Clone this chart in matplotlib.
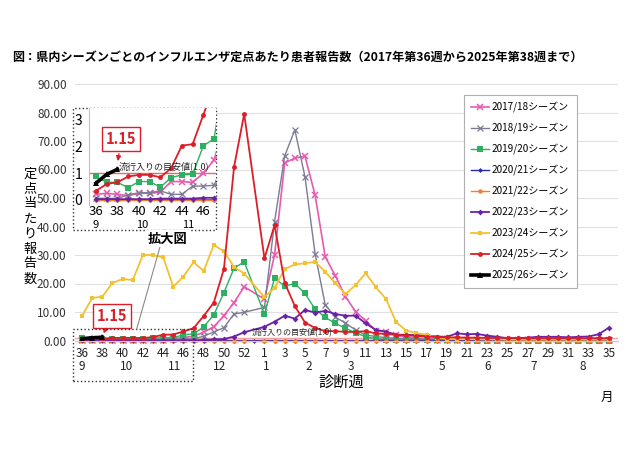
import matplotlib
matplotlib.use('Agg')
import matplotlib.pyplot as plt
from matplotlib.patches import Rectangle
from matplotlib.lines import Line2D
from matplotlib.transforms import blended_transform_factory

plt.rcParams['font.family'] = ['Noto Sans CJK JP', 'DejaVu Sans']

# ---------------- data ----------------
weeks = list(range(36, 54)) + list(range(1, 36))
season_labels = ['2017/18シーズン', '2018/19シーズン', '2019/20シーズン', '2020/21シーズン',
                 '2021/22シーズン', '2022/23シーズン', '2023/24シーズン', '2024/25シーズン',
                 '2025/26シーズン']

s1718 = [0.21, 0.25, 0.21, 0.16, 0.25, 0.25, 0.29, 0.69, 0.69, 0.66,
         1.0, 1.5, 2.9, 4.8, 8.7, 13.3, 18.9, None,
         14.5, 30.0, 62.3, 64.0, 64.7, 51.0, 29.4, 22.7, 15.4, 10.1,
         6.9, 3.4, 3.1, 1.8, 1.2, 0.8, 0.6, 0.5, 0.4, 0.3,
         0.3, 0.2, 0.2, 0.2, 0.1, 0.1, 0.1, 0.1, 0.1, 0.1,
         0.1, 0.1, 0.1, 0.1, 0.1]
s1819 = [0.06, 0.06, 0.06, 0.19, 0.27, 0.27, 0.34, 0.21, 0.21, 0.52,
         0.52, 0.55, 1.5, 3.0, 4.5, 9.3, 9.9, None,
         11.6, 41.7, 64.8, 73.9, 57.5, 30.4, 12.5, 8.2, 6.1, 3.7,
         1.9, 1.4, 1.0, 0.8, 0.6, 0.5, 0.4, 0.3, 0.3, 0.2,
         0.2, 0.2, 0.1, 0.1, 0.1, 0.1, 0.1, 0.1, 0.1, 0.1,
         0.1, 0.1, 0.1, 0.1, 0.1]
s1920 = [0.88, 0.66, 0.66, 0.46, 0.69, 0.69, 0.48, 0.84, 0.94, 0.96,
         2.03, 2.3, 4.8, 9.0, 16.8, 25.4, 27.6, None,
         9.3, 21.9, 19.1, 20.0, 16.5, 11.0, 8.1, 6.0, 4.3, 2.7,
         1.3, 0.6, 0.3, 0.2, 0.1, 0.1, 0.05, 0.05, 0.02, 0.02,
         0.0, 0.0, 0.0, 0.0, 0.0, 0.0, 0.0, 0.0, 0.0, 0.0,
         0.0, 0.0, 0.0, 0.0, 0.0]
s2021 = [0.01, 0.01, 0.01, 0.0, 0.0, 0.0, 0.0, 0.0, 0.0, 0.0,
         0.0, 0.0, 0.0, 0.0, 0.0, 0.0, 0.0, 0.0,
         0.0, 0.0, 0.0, 0.0, 0.0, 0.0, 0.0, 0.0, 0.0, 0.0,
         0.0, 0.0, 0.0, 0.0, 0.0, 0.0, 0.0, 0.0, 0.0, 0.0,
         0.0, 0.0, 0.0, 0.0, 0.0, 0.0, 0.0, 0.0, 0.0, 0.0,
         0.0, 0.0, 0.0, 0.0, 0.0]
s2122 = [0.0, 0.0, 0.0, 0.0, 0.0, 0.0, 0.0, 0.0, 0.0, 0.0,
         0.0, 0.0, 0.0, 0.0, 0.0, 0.0, 0.0, None,
         0.0, 0.0, 0.0, 0.0, 0.0, 0.0, 0.0, 0.0, 0.0, 0.0,
         0.0, 0.0, 0.0, 0.0, 0.0, 0.0, 0.0, 0.0, 0.0, 0.0,
         0.0, 0.0, 0.0, 0.0, 0.0, 0.0, 0.0, 0.0, 0.0, 0.0,
         0.0, 0.0, 0.0, 0.0, 0.0]
s2223 = [0.03, 0.03, 0.03, 0.03, 0.03, 0.03, 0.05, 0.05, 0.05, 0.05,
         0.08, 0.08, 0.2, 0.4, 0.5, 1.4, 2.9, None,
         4.8, 6.6, 8.7, 7.7, 10.7, 9.8, 10.4, 9.3, 8.7, 8.7,
         6.0, 3.7, 3.1, 2.0, 2.0, 1.9, 1.8, 1.4, 1.3, 2.5,
         2.2, 2.3, 1.7, 1.3, 0.8, 0.8, 1.0, 1.3, 1.3, 1.3,
         1.1, 1.3, 1.4, 2.2, 4.5]
s2324 = [8.7, 14.9, 15.4, 20.2, 21.6, 21.2, 30.0, 30.0, 29.2, 18.9,
         22.4, 27.5, 24.4, 33.5, 31.3, 25.8, 23.5, None,
         15.2, 18.5, 25.1, 26.7, 27.1, 27.6, 24.1, 20.1, 16.3, 19.5,
         23.6, 18.7, 14.6, 6.4, 3.5, 2.6, 2.0, 1.0, 0.6, 0.5,
         0.5, 0.4, 0.4, 0.4, 0.3, 0.3, 0.3, 0.3, 0.3, 0.3,
         0.3, 0.3, 0.3, 0.3, 0.3]
s2425 = [0.34, 0.6, 0.66, 0.88, 0.94, 0.94, 0.85, 1.19, 2.04, 2.09,
         3.19, 4.3, 8.6, 13.3, 25.1, 60.9, 79.5, None,
         28.8, 40.5, 20.2, 12.1, 6.3, 4.4, 3.3, 3.3, 3.0, 3.0,
         3.3, 2.5, 2.3, 2.0, 1.8, 1.6, 1.4, 1.2, 1.1, 1.1,
         1.0, 1.0, 0.9, 0.9, 0.9, 0.8, 0.8, 0.8, 0.8, 0.8,
         0.8, 0.8, 0.8, 0.8, 0.8]
s2526 = [0.63, 0.96, 1.15]

threshold = 1.0
latest_value = 1.15
month_labels = ['9', '10', '11', '12', '1', '2', '3', '4', '5', '6', '7', '8']
month_pos = [0, 4.4, 9.1, 13.6, 18.2, 22.4, 26.5, 31, 35.5, 40, 44.6, 49.4]
inset_month_labels = ['9', '10', '11']
inset_month_pos = [36, 40.3, 44.6]

series = [s1718, s1819, s1920, s2021, s2122, s2223, s2324, s2425, s2526]
styles = [
    dict(color='#e65bb0', marker='x', ms=5, mew=1.1, lw=1.2),
    dict(color='#7b7b95', marker='x', ms=4, mew=0.9, lw=1.0),
    dict(color='#2eb062', marker='s', ms=4, mew=0, lw=1.0),
    dict(color='#2a2ab0', marker='D', ms=2.5, mew=0, lw=1.0),
    dict(color='#f08030', marker='o', ms=3.2, mew=0, lw=1.0),
    dict(color='#6a22a8', marker='D', ms=3, mew=0, lw=1.3),
    dict(color='#f2c230', marker='s', ms=3.5, mew=0, lw=1.3),
    dict(color='#dc1e28', marker='o', ms=3.5, mew=0, lw=1.3),
    dict(color='#000000', marker='^', ms=5, mew=0, lw=2.6),
]

W, H = 640, 450
def fx(px):
    return px / W
def fy(py):
    return 1 - py / H

fig = plt.figure(figsize=(6.4, 4.5), dpi=100)
fig.patch.set_facecolor('white')

# ---------------- main axes ----------------
ax = fig.add_axes([fx(75), fy(340.5), fx(618) - fx(75), fy(84) - fy(340.5)])
ax.set_xlim(-0.7, 52.9)
ax.set_ylim(0, 90)
ax.set_yticks(range(0, 91, 10))
ax.set_yticklabels([f'{v:.2f}' for v in range(0, 91, 10)], fontsize=8.5, color='#333333')
ax.set_xticks(range(0, 53, 2))
ax.set_xticklabels([str(weeks[i]) for i in range(0, 53, 2)], fontsize=8.5, color='#222222')
ax.tick_params(axis='both', length=0)
ax.tick_params(axis='y', pad=6)
ax.tick_params(axis='x', pad=5)
ax.grid(axis='y', color='#e0e0e0', lw=0.8)
ax.set_axisbelow(True)
for s in ['top', 'right', 'left']:
    ax.spines[s].set_visible(False)
ax.spines['bottom'].set_color('#c8c8c8')

ax.axhline(threshold, color='#f0a0a0', lw=1.0, zorder=1.5)

handles = []
for vals, st, lab in zip(series, styles, season_labels):
    xs = [i for i, v in enumerate(vals) if v is not None]
    ys = [v for v in vals if v is not None]
    ln, = ax.plot(xs, ys, color=st['color'], marker=st['marker'], ms=st['ms'],
                  mew=st['mew'], mec=st['color'], lw=st['lw'], clip_on=False, label=lab)
    handles.append(ln)

ax.text(16.75, 2.7, '流行入りの目安値(1.0)', fontsize=5.8, ha='left', va='center',
        color='#222222', zorder=6)

ax.annotate(f'{latest_value:.2f}', xy=(2, 1.6), xytext=(2.93, 8.6),
            fontsize=10.5, fontweight='bold', color='#dc1e28', ha='center', va='center',
            bbox=dict(boxstyle='square,pad=0.25', fc='white', ec='#dc1e28', lw=1),
            arrowprops=dict(arrowstyle='-|>', color='#dc1e28', lw=1, mutation_scale=7),
            zorder=7)

tr = blended_transform_factory(ax.transData, fig.transFigure)
for lab, p in zip(month_labels, month_pos):
    ax.text(p, fy(366.5), lab, transform=tr, fontsize=8.5, ha='center', va='center', color='#222222')
fig.text(fx(607), fy(397), '月', fontsize=9, ha='center', va='center')
fig.text(fx(341), fy(382), '診断週', fontsize=11, ha='center', va='center')
fig.text(fx(30), fy(226.5), '\n'.join('定点当たり報告数'), fontsize=9.5, ha='center',
         va='center', linespacing=1.2)
fig.text(fx(12), fy(57), '図：県内シーズンごとのインフルエンザ定点あたり患者報告数（2017年第36週から2025年第38週まで）',
         fontsize=8.7, fontweight='bold', ha='left', va='center')

leg = ax.legend(handles=handles, loc='upper left', bbox_to_anchor=(fx(464), fy(95)),
                bbox_transform=fig.transFigure, fontsize=7.2, frameon=True, fancybox=False,
                edgecolor='#b0b0b0', framealpha=1, labelspacing=1.0, handlelength=1.8,
                handletextpad=0.3, borderpad=0.7, borderaxespad=0)
leg.get_frame().set_linewidth(0.8)

# ---------------- zoom boxes ----------------
inset_box = Rectangle((fx(73), fy(230)), fx(216) - fx(73), fy(108) - fy(230),
                      transform=fig.transFigure, facecolor='white', edgecolor='#333333',
                      linestyle=':', lw=1.0, zorder=2)
fig.add_artist(inset_box)
main_box = Rectangle((fx(73), fy(381)), fx(193) - fx(73), fy(329) - fy(381),
                     transform=fig.transFigure, fill=False, edgecolor='#333333',
                     linestyle=':', lw=1.0, zorder=2)
fig.add_artist(main_box)
fig.add_artist(Line2D([fx(164.8), fx(136.7)], [fy(230), fy(329)], transform=fig.transFigure,
                      color='#8a8a8a', lw=0.8, zorder=2))
fig.text(fx(167.5), fy(238.5), '拡大図', fontsize=9.5, fontweight='bold', ha='center',
         va='center', zorder=4, bbox=dict(boxstyle='square,pad=0.1', fc='white', ec='none'))

# ---------------- inset axes ----------------
axi = fig.add_axes([fx(89), fy(205), fx(216) - fx(89), fy(108) - fy(205)], zorder=3)
axi.set_xlim(35.35, 47.18)
axi.set_ylim(-0.19, 3.45)
axi.set_facecolor('white')
axi.set_yticks([0, 1, 2, 3])
axi.set_yticklabels(['0', '1', '2', '3'], fontsize=10)
axi.set_xticks(range(36, 47, 2))
axi.set_xticklabels([str(w) for w in range(36, 47, 2)], fontsize=9.5)
axi.tick_params(axis='both', length=0)
axi.tick_params(axis='y', pad=5)
axi.tick_params(axis='x', pad=0)
for s in ['top', 'right', 'bottom']:
    axi.spines[s].set_visible(False)
axi.spines['left'].set_color('#c0c0c0')
axi.spines['left'].set_linewidth(0.8)
axi.axhline(threshold, color='#e06a6a', lw=1.0, zorder=1.5)

for vals, st in zip(series, styles):
    xs = [weeks[i] if i < 18 else 54 + i - 18 for i, v in enumerate(vals) if v is not None]
    ys = [v for v in vals if v is not None]
    axi.plot(xs, ys, color=st['color'], marker=st['marker'], ms=st['ms'], mew=st['mew'],
             mec=st['color'], lw=st['lw'])

axi.text(38.14, 1.27, '流行入りの目安値(1.0)', fontsize=6.5, ha='left', va='center',
         color='#222222', zorder=6)
axi.annotate(f'{latest_value:.2f}', xy=(38.0, 1.35), xytext=(38.33, 2.29),
             fontsize=10.5, fontweight='bold', color='#dc1e28', ha='center', va='center',
             bbox=dict(boxstyle='square,pad=0.25', fc='white', ec='#dc1e28', lw=1),
             arrowprops=dict(arrowstyle='-|>', color='#dc1e28', lw=1, mutation_scale=7),
             zorder=7)
tri = blended_transform_factory(axi.transData, fig.transFigure)
for lab, p in zip(inset_month_labels, inset_month_pos):
    axi.text(p, fy(225.5), lab, transform=tri, fontsize=8, ha='center', va='center')

fig.savefig('out.png', dpi=100, facecolor='white')
